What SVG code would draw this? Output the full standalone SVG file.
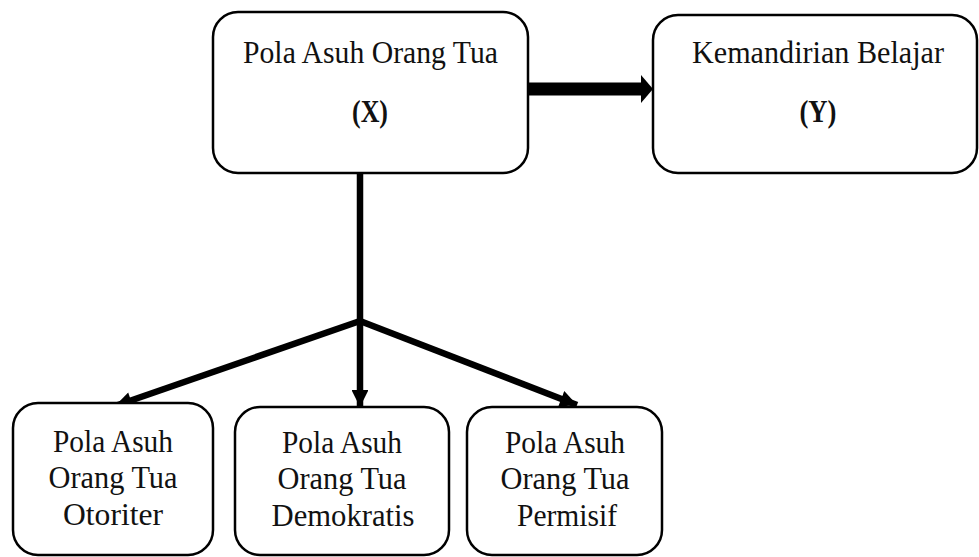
<svg xmlns="http://www.w3.org/2000/svg" width="979" height="557" viewBox="0 0 979 557">
<style>
.box{fill:#fff;stroke:#000;stroke-width:2.5}
.t{font-family:"Liberation Serif","DejaVu Serif",serif;font-size:30.5px;fill:#111;text-anchor:middle}
.b{font-weight:bold}
.c{stroke:#000;fill:none;stroke-width:6.5}
</style>
<defs>
<marker id="ah" viewBox="0 0 10 10" refX="10" refY="5" markerWidth="2.7" markerHeight="2.6" orient="auto" markerUnits="strokeWidth">
<path d="M0,0 L10,5 L0,10 z" fill="#000"/>
</marker>
</defs>
<g id="connectors">
<path d="M528,89 L643,89" stroke="#000" stroke-width="13"/>
<path d="M641,75 L653,89 L641,103 z" fill="#000"/>
<path class="c" d="M360,173 L360,322"/>
<path class="c" d="M360,321 L115,406" marker-end="url(#ah)"/>
<path class="c" d="M360,321 L360,407" marker-end="url(#ah)"/>
<path class="c" d="M360,321 L577,405" marker-end="url(#ah)"/>
</g>
<g id="nodeX">
<rect class="box" x="213" y="12" width="315" height="161" rx="25"/>
<text class="t" x="370.5" y="63" textLength="255" lengthAdjust="spacingAndGlyphs">Pola Asuh Orang Tua</text>
<text class="t b" x="370" y="122" textLength="36" lengthAdjust="spacingAndGlyphs">(X)</text>
</g>
<g id="nodeY">
<rect class="box" x="653" y="15" width="324" height="158" rx="25"/>
<text class="t" x="818" y="63" textLength="252" lengthAdjust="spacingAndGlyphs">Kemandirian Belajar</text>
<text class="t b" x="818" y="122" textLength="37" lengthAdjust="spacingAndGlyphs">(Y)</text>
</g>
<g id="nodeOtoriter">
<rect class="box" x="13" y="403" width="200" height="152" rx="25"/>
<text class="t" x="113" y="452" textLength="120" lengthAdjust="spacingAndGlyphs">Pola Asuh</text>
<text class="t" x="113" y="488" textLength="129" lengthAdjust="spacingAndGlyphs">Orang Tua</text>
<text class="t" x="113" y="525" textLength="100" lengthAdjust="spacingAndGlyphs">Otoriter</text>
</g>
<g id="nodeDemokratis">
<rect class="box" x="235" y="407" width="214" height="148" rx="25"/>
<text class="t" x="342" y="453" textLength="120" lengthAdjust="spacingAndGlyphs">Pola Asuh</text>
<text class="t" x="342" y="489" textLength="129" lengthAdjust="spacingAndGlyphs">Orang Tua</text>
<text class="t" x="343" y="526" textLength="143" lengthAdjust="spacingAndGlyphs">Demokratis</text>
</g>
<g id="nodePermisif">
<rect class="box" x="467" y="407" width="195" height="148" rx="25"/>
<text class="t" x="565" y="453" textLength="120" lengthAdjust="spacingAndGlyphs">Pola Asuh</text>
<text class="t" x="565" y="489" textLength="129" lengthAdjust="spacingAndGlyphs">Orang Tua</text>
<text class="t" x="567" y="526" textLength="100" lengthAdjust="spacingAndGlyphs">Permisif</text>
</g>
</svg>
